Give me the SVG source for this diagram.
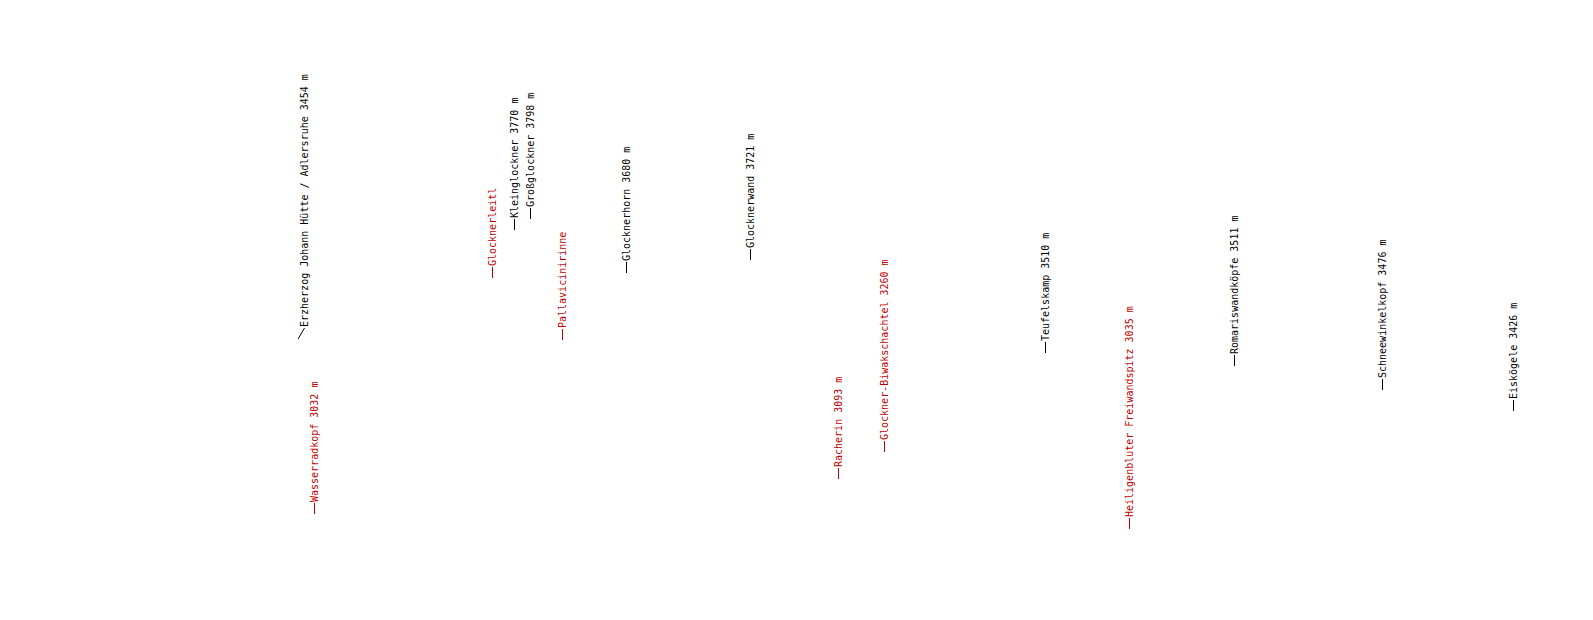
<svg xmlns="http://www.w3.org/2000/svg" width="1593" height="620" viewBox="0 0 1593 620">
<style>
text{font-family:"DejaVu Sans Mono","Liberation Mono",monospace;font-size:10px}
.k{fill:#000}
.r{fill:#c00000}
.lk{stroke:#000;stroke-width:1;fill:none}
.lr{stroke:#c00000;stroke-width:1;fill:none}
</style>
<rect width="1593" height="620" fill="#fff"/>
<g id="connectors">
<line class="lk" x1="298" y1="339" x2="304.5" y2="328"/>
<line class="lr" x1="314.5" y1="514" x2="314.5" y2="503"/>
<line class="lr" x1="492.5" y1="278" x2="492.5" y2="267"/>
<line class="lk" x1="514.5" y1="230" x2="514.5" y2="219"/>
<line class="lk" x1="530.5" y1="219" x2="530.5" y2="208"/>
<line class="lr" x1="562.5" y1="340" x2="562.5" y2="329"/>
<line class="lk" x1="626.5" y1="273" x2="626.5" y2="262"/>
<line class="lk" x1="750.5" y1="260" x2="750.5" y2="249"/>
<line class="lr" x1="838.5" y1="479" x2="838.5" y2="468"/>
<line class="lr" x1="884.5" y1="452" x2="884.5" y2="441"/>
<line class="lk" x1="1045.5" y1="353" x2="1045.5" y2="342"/>
<line class="lr" x1="1129.5" y1="529" x2="1129.5" y2="518"/>
<line class="lk" x1="1234.5" y1="366" x2="1234.5" y2="355"/>
<line class="lk" x1="1382.5" y1="390" x2="1382.5" y2="379"/>
<line class="lk" x1="1513.5" y1="411" x2="1513.5" y2="400"/>
</g>
<g id="n1"><text class="k" transform="translate(307.5,327) rotate(-90)">Erzherzog Johann Hütte / Adlersruhe 3454 m</text></g>
<g id="n2"><text class="r" transform="translate(318,502) rotate(-90)">Wasserradkopf 3032 m</text></g>
<g id="n3"><text class="r" transform="translate(496,266) rotate(-90)">Glocknerleitl</text></g>
<g id="n4"><text class="k" transform="translate(518,218) rotate(-90)">Kleinglockner 3770 m</text></g>
<g id="n5"><text class="k" transform="translate(534,207) rotate(-90)">Großglockner 3798 m</text></g>
<g id="n6"><text class="r" transform="translate(566,328) rotate(-90)">Pallavicinirinne</text></g>
<g id="n7"><text class="k" transform="translate(630,261) rotate(-90)">Glocknerhorn 3680 m</text></g>
<g id="n8"><text class="k" transform="translate(754,248) rotate(-90)">Glocknerwand 3721 m</text></g>
<g id="n9"><text class="r" transform="translate(842,467) rotate(-90)">Racherin 3093 m</text></g>
<g id="n10"><text class="r" transform="translate(888,440) rotate(-90)">Glockner-Biwakschachtel 3260 m</text></g>
<g id="n11"><text class="k" transform="translate(1049,341) rotate(-90)">Teufelskamp 3510 m</text></g>
<g id="n12"><text class="r" transform="translate(1133,517) rotate(-90)">Heiligenbluter Freiwandspitz 3035 m</text></g>
<g id="n13"><text class="k" transform="translate(1238,354) rotate(-90)">Romariswandköpfe 3511 m</text></g>
<g id="n14"><text class="k" transform="translate(1386,378) rotate(-90)">Schneewinkelkopf 3476 m</text></g>
<g id="n15"><text class="k" transform="translate(1517,399) rotate(-90)">Eiskögele 3426 m</text></g>
</svg>
